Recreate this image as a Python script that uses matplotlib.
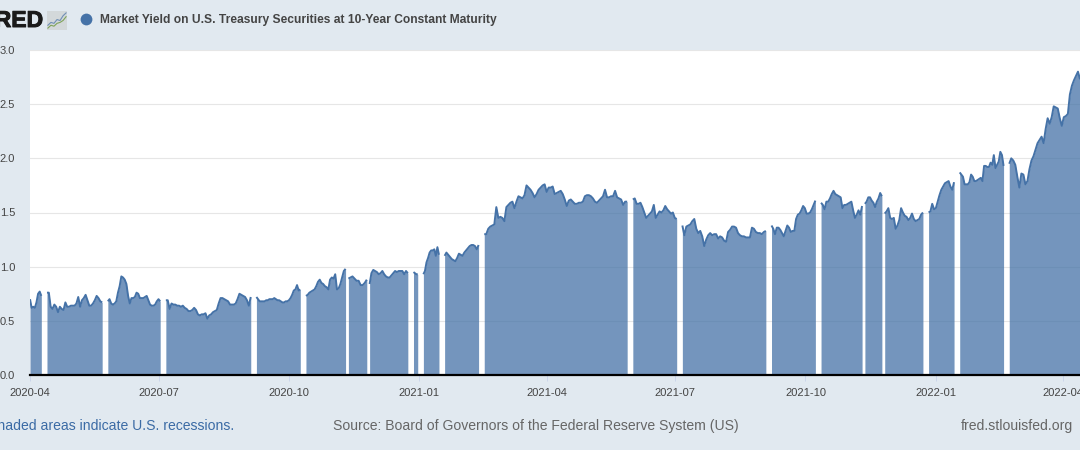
import pandas as pd
import matplotlib.pyplot as plt
import matplotlib.dates as mdates
import matplotlib.patheffects as pe

plt.rcParams["font.family"] = ["Liberation Sans", "DejaVu Sans"]

BG = "#e1e9f0"
BLUE = "#4572a7"

# trading stretches between market holidays: (first day, last day)
seg_dates = [
    ("2020-04-01", "2020-04-09"), ("2020-04-13", "2020-05-22"),
    ("2020-05-26", "2020-07-02"), ("2020-07-06", "2020-09-04"),
    ("2020-09-08", "2020-10-09"), ("2020-10-13", "2020-11-10"),
    ("2020-11-12", "2020-11-25"), ("2020-11-27", "2020-12-24"),
    ("2020-12-28", "2020-12-31"), ("2021-01-04", "2021-01-15"),
    ("2021-01-19", "2021-02-12"), ("2021-02-16", "2021-05-28"),
    ("2021-06-01", "2021-07-02"), ("2021-07-06", "2021-09-03"),
    ("2021-09-07", "2021-10-08"), ("2021-10-12", "2021-11-10"),
    ("2021-11-12", "2021-11-24"), ("2021-11-26", "2021-12-23"),
    ("2021-12-27", "2022-01-14"), ("2022-01-18", "2022-02-18"),
    ("2022-02-22", "2022-04-13"),
]

seg_values = [
    [0.70, 0.62, 0.63, 0.62, 0.67, 0.75, 0.77, 0.73],
    [0.76, 0.76, 0.63, 0.61, 0.65, 0.63, 0.58, 0.63, 0.61, 0.60, 0.67, 0.63, 0.63, 0.64, 0.64, 0.64,
     0.66, 0.72, 0.63, 0.69, 0.71, 0.74, 0.69, 0.64, 0.64, 0.66, 0.69, 0.73, 0.71, 0.68, 0.67],
    [0.68, 0.70, 0.66, 0.65, 0.66, 0.68, 0.76, 0.82, 0.91, 0.90, 0.88, 0.84, 0.73, 0.66, 0.71, 0.71,
     0.72, 0.76, 0.75, 0.71, 0.71, 0.71, 0.72, 0.73, 0.69, 0.65, 0.64, 0.64, 0.65, 0.68, 0.70, 0.68],
    [0.69, 0.69, 0.61, 0.66, 0.65, 0.65, 0.64, 0.64, 0.63, 0.64, 0.62, 0.61, 0.59, 0.59, 0.60, 0.62,
     0.60, 0.56, 0.55, 0.56, 0.56, 0.57, 0.52, 0.55, 0.56, 0.58, 0.59, 0.60, 0.66, 0.71, 0.71, 0.70,
     0.69, 0.68, 0.65, 0.65, 0.65, 0.66, 0.70, 0.75, 0.74, 0.73, 0.72, 0.69, 0.64, 0.72],
    [0.72, 0.70, 0.68, 0.68, 0.68, 0.68, 0.69, 0.69, 0.70, 0.70, 0.70, 0.71, 0.70, 0.69, 0.69, 0.68,
     0.67, 0.67, 0.68, 0.68, 0.69, 0.71, 0.74, 0.78, 0.79, 0.83, 0.78, 0.79],
    [0.73, 0.74, 0.76, 0.77, 0.78, 0.79, 0.82, 0.86, 0.88, 0.85, 0.84, 0.82, 0.81, 0.79, 0.88, 0.90,
     0.89, 0.93, 0.79, 0.80, 0.84, 0.90, 0.96, 0.98],
    [0.89, 0.90, 0.91, 0.89, 0.87, 0.87, 0.83, 0.83, 0.85, 0.88],
    [0.84, 0.94, 0.97, 0.96, 0.95, 0.93, 0.94, 0.96, 0.93, 0.91, 0.90, 0.90, 0.92, 0.94, 0.96, 0.95,
     0.96, 0.96, 0.96, 0.93, 0.96, 0.94],
    [0.95, 0.94, 0.93, 0.93],
    [0.93, 0.96, 1.04, 1.08, 1.13, 1.15, 1.15, 1.16, 1.10, 1.18, 1.11],
    [1.10, 1.13, 1.11, 1.09, 1.07, 1.06, 1.05, 1.08, 1.12, 1.11, 1.10, 1.13, 1.15, 1.17, 1.19, 1.20,
     1.20, 1.19, 1.16, 1.20],
    [1.30, 1.30, 1.35, 1.37, 1.38, 1.39, 1.55, 1.45, 1.46, 1.45, 1.42, 1.55, 1.57, 1.59, 1.60, 1.54,
     1.60, 1.65, 1.64, 1.63, 1.66, 1.75, 1.73, 1.71, 1.68, 1.64, 1.67, 1.71, 1.73, 1.75, 1.76, 1.69,
     1.73, 1.73, 1.74, 1.67, 1.68, 1.69, 1.70, 1.67, 1.62, 1.56, 1.61, 1.62, 1.60, 1.58, 1.58, 1.59,
     1.59, 1.60, 1.65, 1.66, 1.66, 1.65, 1.63, 1.60, 1.59, 1.61, 1.63, 1.65, 1.71, 1.64, 1.64, 1.65,
     1.65, 1.70, 1.64, 1.63, 1.62, 1.57, 1.60, 1.60],
    [1.62, 1.63, 1.58, 1.58, 1.59, 1.55, 1.50, 1.45, 1.47, 1.49, 1.51, 1.57, 1.45, 1.48, 1.51, 1.50,
     1.52, 1.56, 1.53, 1.51, 1.49, 1.50, 1.45, 1.44],
    [1.38, 1.29, 1.37, 1.38, 1.39, 1.42, 1.44, 1.35, 1.31, 1.33, 1.28, 1.19, 1.25, 1.29, 1.31, 1.29,
     1.30, 1.30, 1.26, 1.28, 1.27, 1.24, 1.23, 1.32, 1.34, 1.37, 1.37, 1.36, 1.31, 1.29, 1.28, 1.28,
     1.27, 1.27, 1.27, 1.36, 1.35, 1.32, 1.31, 1.31, 1.30, 1.32, 1.33],
    [1.38, 1.35, 1.30, 1.36, 1.36, 1.34, 1.31, 1.28, 1.33, 1.38, 1.36, 1.32, 1.33, 1.33, 1.44, 1.48,
     1.49, 1.52, 1.56, 1.54, 1.49, 1.49, 1.50, 1.53, 1.57, 1.61],
    [1.59, 1.57, 1.53, 1.60, 1.60, 1.63, 1.67, 1.70, 1.67, 1.66, 1.65, 1.64, 1.54, 1.57, 1.57, 1.58,
     1.59, 1.60, 1.52, 1.45, 1.48, 1.52, 1.48, 1.56],
    [1.58, 1.60, 1.64, 1.64, 1.61, 1.59, 1.55, 1.60, 1.63, 1.68, 1.65],
    [1.49, 1.51, 1.54, 1.45, 1.44, 1.45, 1.35, 1.38, 1.43, 1.54, 1.50, 1.47, 1.46, 1.43, 1.45, 1.49,
     1.44, 1.42, 1.43, 1.44, 1.48, 1.50],
    [1.50, 1.51, 1.58, 1.53, 1.54, 1.60, 1.66, 1.71, 1.74, 1.77, 1.78, 1.79, 1.74, 1.71, 1.78],
    [1.87, 1.85, 1.83, 1.76, 1.76, 1.76, 1.78, 1.85, 1.83, 1.79, 1.79, 1.80, 1.81, 1.82, 1.79, 1.93,
     1.93, 1.92, 1.92, 1.96, 1.94, 2.03, 1.91, 1.94, 1.97, 2.06, 2.03, 1.93],
    [1.95, 2.00, 1.98, 1.94, 1.83, 1.73, 1.86, 1.85, 1.76, 1.79, 1.90, 1.98, 2.02, 2.08, 2.14, 2.17,
     2.20, 2.14, 2.27, 2.37, 2.32, 2.38, 2.48, 2.47, 2.46, 2.37, 2.30, 2.38, 2.39, 2.41, 2.59, 2.67,
     2.72, 2.76, 2.80, 2.73],
]

tick_dates = ["2020-04", "2020-07", "2020-10", "2021-01", "2021-04", "2021-07", "2021-10", "2022-01", "2022-04"]
y_ticks = [0.0, 0.5, 1.0, 1.5, 2.0, 2.5, 3.0]

# small logo chart
logo_blue = [0.25, 0.4, 0.35, 0.55, 0.5, 0.75, 0.9]
logo_green = [0.1, 0.25, 0.2, 0.35, 0.4, 0.5, 0.7]

fig = plt.figure(figsize=(10.8, 4.5), dpi=100, facecolor=BG)
ax = fig.add_axes([30 / 1080, 75 / 450, 1050 / 1080, 325 / 450])

for (start, end), vals in zip(seg_dates, seg_values):
    days = pd.date_range(start, end, periods=len(vals))
    ax.fill_between(days, vals, 0, color=BLUE, alpha=0.75, lw=0, zorder=2)
    ax.plot(days, vals, color=BLUE, lw=1.4, zorder=3, solid_joinstyle="round", solid_capstyle="butt")

ax.set_xlim(pd.Timestamp("2020-04-01"), pd.Timestamp("2022-04-13"))
ax.set_ylim(0, 3)
ax.set_yticks(y_ticks)
ax.set_yticklabels([f"{v:.1f}" for v in y_ticks])
ax.set_xticks([pd.Timestamp(d + "-01") for d in tick_dates])
ax.xaxis.set_major_formatter(mdates.DateFormatter("%Y-%m"))
ax.grid(axis="y", color="#e6e6e6", lw=0.8, zorder=1)
ax.set_axisbelow(True)
for side in ["top", "left", "right"]:
    ax.spines[side].set_visible(False)
ax.spines["bottom"].set_color("black")
ax.spines["bottom"].set_linewidth(1.6)
ax.spines["bottom"].set_zorder(5)
ax.tick_params(axis="y", length=0, pad=10.8, labelsize=8, labelcolor="#444444")
ax.tick_params(axis="x", length=4, width=0.7, color="#ccd6eb", pad=5.5, labelsize=8, labelcolor="#444444")

# header
fig.text(43 / 1080, 1 - 20.5 / 450, "FRED", ha="right", va="center", fontsize=16.5, fontweight="bold",
         color="#1a1a1a", path_effects=[pe.withStroke(linewidth=0.7, foreground="#1a1a1a")])
fig.text(100 / 1080, 1 - 19.5 / 450, "Market Yield on U.S. Treasury Securities at 10-Year Constant Maturity",
         ha="left", va="center", fontsize=8.64, fontweight="bold", color="#444444")
logo = fig.add_axes([47 / 1080, 1 - 30 / 450, 20 / 1080, 19 / 450], facecolor="#d3d8da")
logo.plot(logo_blue, color="#6f8fb5", lw=0.8)
logo.plot(logo_green, color="#7fa35a", lw=0.8)
logo.set_xticks([])
logo.set_yticks([])
logo.set_ylim(0, 1)
for sp in logo.spines.values():
    sp.set_visible(False)
dot = fig.add_axes([0, 0, 1, 1], facecolor="none")
dot.set_xlim(0, 1080)
dot.set_ylim(450, 0)
dot.axis("off")
dot.scatter([86], [19], s=72, color=BLUE, lw=0)

# footer
fig.text(234 / 1080, 1 - 426 / 450, "Shaded areas indicate U.S. recessions.", ha="right", va="center",
         fontsize=10.05, color="#3b6ba5")
fig.text(333 / 1080, 1 - 426 / 450, "Source: Board of Governors of the Federal Reserve System (US)", ha="left",
         va="center", fontsize=10.05, color="#666666")
fig.text(1073 / 1080, 1 - 426 / 450, "fred.stlouisfed.org", ha="right", va="center", fontsize=10.05, color="#666666")

fig.savefig("out.png", dpi=100, facecolor=BG)
